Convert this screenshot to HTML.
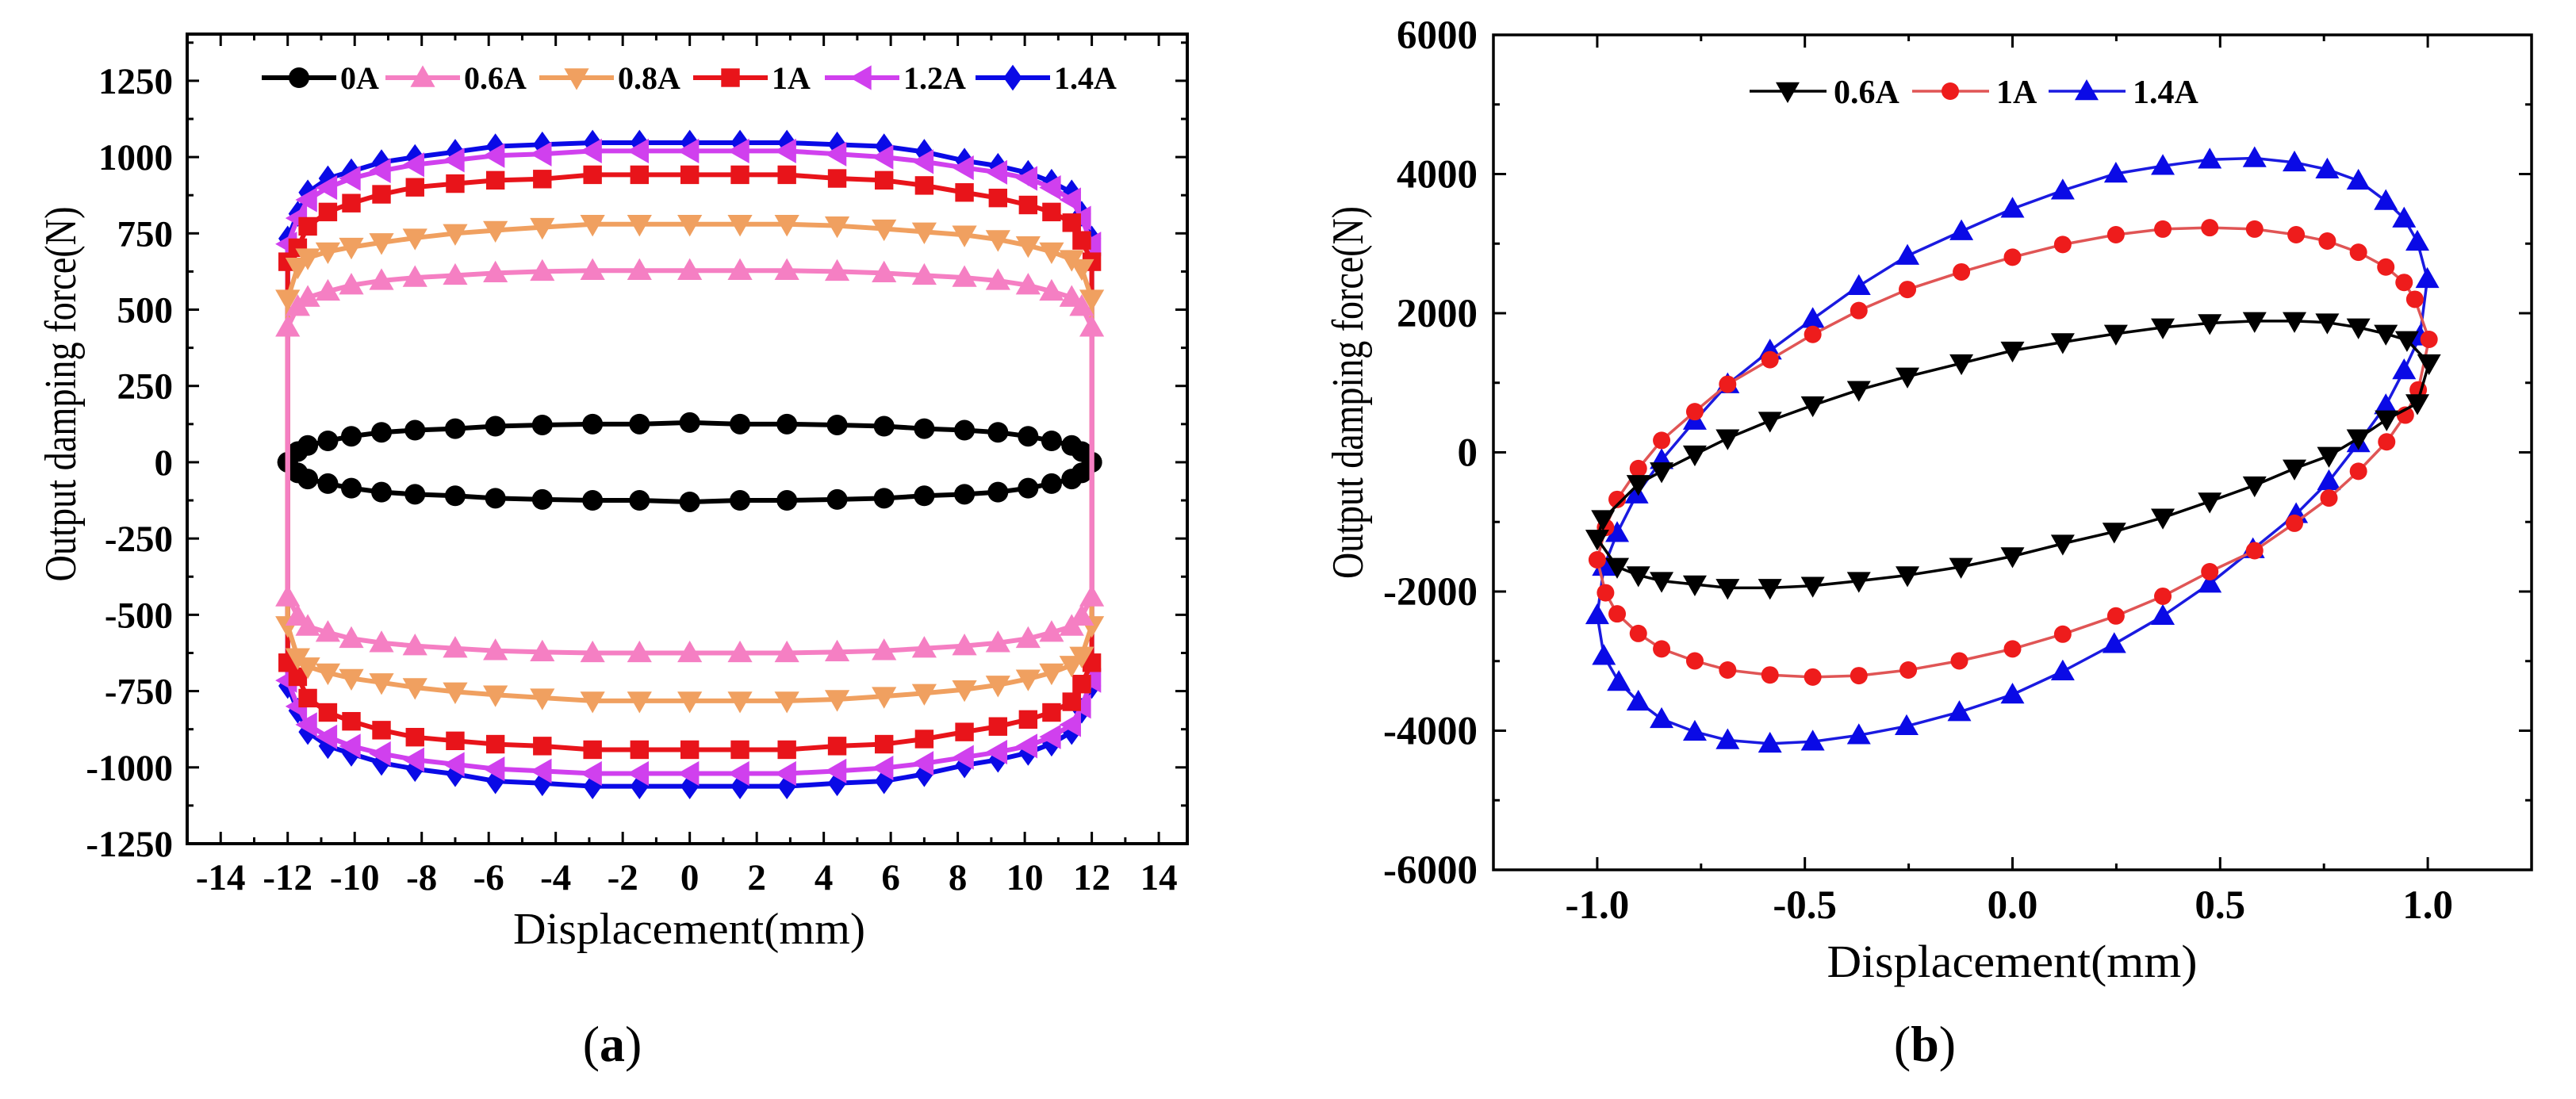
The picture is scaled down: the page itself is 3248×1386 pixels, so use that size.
<!DOCTYPE html>
<html><head><meta charset="utf-8"><style>
html,body{margin:0;padding:0;background:#fff;width:3248px;height:1386px;overflow:hidden}
svg{display:block}
text{font-family:"Liberation Serif",serif}
</style></head>
<body>
<svg id="fig" width="3248" height="1386" viewBox="0 0 3248 1386" xmlns="http://www.w3.org/2000/svg">
<g id="pa"></g>
<g id="pb"></g>
</svg>
<script>
// ---------- Chart (a) data ----------
const aX = [-12,-11.7,-11.4,-10.8,-10.1,-9.2,-8.2,-7.0,-5.8,-4.4,-2.9,-1.5,0,1.5,2.9,4.4,5.8,7.0,8.2,9.2,10.1,10.8,11.4,11.7,12];
const aSeriesNames = ["0A","1.4A","1.2A","1A","0.8A","0.6A"];
const aUp0 = [0,35,55,70,85,98,105,110,118,122,125,125,130,125,125,122,118,110,105,98,85,70,55,35,0];
const aLo0 = [0,-35,-55,-70,-85,-98,-105,-110,-118,-122,-125,-125,-130,-125,-125,-122,-118,-110,-105,-98,-85,-70,-55,-35,0];
const aUp06 = [442,510,540,560,580,595,605,612,620,625,628,628,628,628,628,625,620,612,605,595,580,560,540,510,442];
const aLo06 = [-442,-505,-538,-558,-578,-592,-602,-610,-618,-622,-625,-625,-625,-625,-625,-622,-618,-610,-602,-592,-578,-558,-538,-505,-442];
const aUp08 = [535,640,670,690,705,720,735,750,760,770,780,780,780,780,780,775,765,755,745,730,710,690,665,635,535];
const aLo08 = [-535,-640,-670,-690,-708,-722,-738,-752,-762,-772,-782,-782,-782,-782,-782,-777,-767,-757,-745,-730,-710,-690,-665,-635,-535];
const aUp1 = [657,703,773,820,849,878,901,913,924,928,942,942,942,942,942,930,924,907,884,866,843,820,785,727,657];
const aLo1 = [-657,-703,-773,-820,-849,-878,-901,-913,-924,-930,-942,-942,-942,-942,-942,-930,-924,-907,-884,-866,-843,-820,-785,-727,-657];
const aUp12 = [715,800,860,900,930,955,975,990,1005,1010,1020,1020,1020,1020,1020,1010,1000,985,965,950,930,900,860,800,715];
const aLo12 = [-715,-800,-860,-900,-930,-955,-975,-990,-1005,-1012,-1020,-1020,-1020,-1020,-1020,-1012,-1002,-987,-967,-950,-930,-900,-860,-800,-715];
const aUp14 = [733,814,884,930,953,983,1000,1017,1035,1041,1047,1047,1047,1047,1047,1041,1035,1017,988,971,948,919,884,814,733];
const aLo14 = [-733,-814,-884,-930,-955,-985,-1005,-1022,-1045,-1052,-1062,-1062,-1062,-1062,-1062,-1052,-1045,-1022,-993,-975,-952,-922,-884,-814,-733];
const aXTicks = [-14,-12,-10,-8,-6,-4,-2,0,2,4,6,8,10,12,14];
const aYTicks = [-1250,-1000,-750,-500,-250,0,250,500,750,1000,1250];

// ---------- Chart (b) data ----------
const b06X = [-1.0,-0.986,-0.901,-0.845,-0.765,-0.686,-0.584,-0.481,-0.370,-0.253,-0.123,0,0.121,0.249,0.362,0.475,0.583,0.679,0.758,0.833,0.899,0.95,1.003,0.975,0.901,0.833,0.762,0.679,0.583,0.475,0.362,0.245,0.121,0,-0.124,-0.253,-0.370,-0.481,-0.584,-0.686,-0.765,-0.845,-0.901,-0.952];
const b06Y = [-1241,-959,-454,-272,-30,202,454,676,898,1090,1281,1463,1584,1705,1796,1857,1887,1887,1867,1796,1705,1614,1281,706,474,202,-50,-232,-474,-706,-938,-1140,-1312,-1493,-1645,-1766,-1847,-1917,-1947,-1947,-1897,-1847,-1766,-1645];
const b1X = [-1.0,-0.98,-0.952,-0.901,-0.845,-0.765,-0.686,-0.584,-0.481,-0.370,-0.253,-0.123,0,0.121,0.249,0.362,0.475,0.583,0.683,0.758,0.833,0.899,0.943,0.969,1.003,0.977,0.946,0.901,0.833,0.762,0.679,0.583,0.475,0.362,0.249,0.121,0,-0.128,-0.251,-0.370,-0.481,-0.584,-0.686,-0.765,-0.845,-0.901,-0.952,-0.98];
const b1Y = [-1544,-1080,-676,-232,172,585,979,1332,1695,2038,2341,2593,2805,2987,3128,3209,3229,3209,3128,3037,2876,2664,2442,2200,1624,898,535,151,-272,-656,-1019,-1413,-1715,-2068,-2351,-2613,-2825,-2997,-3128,-3209,-3229,-3199,-3128,-2997,-2825,-2603,-2321,-2018];
const b14X = [-1.0,-0.984,-0.952,-0.905,-0.845,-0.765,-0.686,-0.584,-0.481,-0.370,-0.253,-0.123,0,0.121,0.249,0.362,0.475,0.583,0.679,0.758,0.833,0.899,0.943,0.975,0.999,0.981,0.943,0.899,0.833,0.762,0.683,0.579,0.475,0.362,0.245,0.121,0,-0.128,-0.255,-0.370,-0.481,-0.584,-0.686,-0.765,-0.845,-0.901,-0.948,-0.984];
const b14Y = [-2340,-1645,-1160,-605,-111,454,979,1463,1917,2391,2825,3178,3501,3764,4006,4117,4208,4228,4167,4066,3905,3612,3360,3027,2492,1665,1180,676,131,-414,-888,-1392,-1887,-2351,-2755,-3148,-3481,-3733,-3935,-4066,-4157,-4187,-4137,-4016,-3834,-3582,-3299,-2926];
const bXTicks = [-1.0,-0.5,0.0,0.5,1.0];
const bYTicks = [-6000,-4000,-2000,0,2000,4000,6000];

const NS = "http://www.w3.org/2000/svg";
function mk(parent, tag, attrs, txt){
  const e = document.createElementNS(NS, tag);
  for (const k in attrs) e.setAttribute(k, attrs[k]);
  if (txt !== undefined) e.textContent = txt;
  parent.appendChild(e);
  return e;
}
function marker(g, shape, cx, cy, s, color){
  let e;
  if (shape === "circle") e = mk(g,"circle",{cx:cx,cy:cy,r:s*0.5,fill:color});
  else if (shape === "square") e = mk(g,"rect",{x:cx-s*0.45,y:cy-s*0.45,width:s*0.9,height:s*0.9,fill:color});
  else {
    let p;
    const h = s*0.6;
    if (shape === "up") p = [[cx,cy-h],[cx+h,cy+h*0.75],[cx-h,cy+h*0.75]];
    else if (shape === "down") p = [[cx,cy+h],[cx+h,cy-h*0.75],[cx-h,cy-h*0.75]];
    else if (shape === "left") p = [[cx-h,cy],[cx+h*0.75,cy-h],[cx+h*0.75,cy+h]];
    else p = [[cx,cy-h*1.05],[cx+h*0.75,cy],[cx,cy+h*1.05],[cx-h*0.75,cy]];
    e = mk(g,"polygon",{points:p.map(q=>q.join(",")).join(" "),fill:color});
  }
  return e;
}

// ---------- Draw chart (a) ----------
(function(){
  const g = document.getElementById("pa");
  const L=236,R=1497,T=43,B=1064;
  const xmin=-15.0, xmax=14.85, ymin=-1250, ymax=1403;
  const sx = v => L + (v-xmin)/(xmax-xmin)*(R-L);
  const sy = v => B - (v-ymin)/(ymax-ymin)*(B-T);
  const series = {
    "0A":{up:aUp0,lo:aLo0,color:"#000000",shape:"circle"},
    "0.6A":{up:aUp06,lo:aLo06,color:"#f57fc3",shape:"up"},
    "0.8A":{up:aUp08,lo:aLo08,color:"#f0a060",shape:"down"},
    "1A":{up:aUp1,lo:aLo1,color:"#e8141a",shape:"square"},
    "1.2A":{up:aUp12,lo:aLo12,color:"#d040ee",shape:"left"},
    "1.4A":{up:aUp14,lo:aLo14,color:"#0a0ae6",shape:"diamond"}
  };
  for (let v=-14; v<=14; v+=1){
    const major = (v%2===0);
    const len = major?15:8;
    const t1 = mk(g,"line",{x1:sx(v),x2:sx(v),y1:B,y2:B-len,stroke:"#000","stroke-width":3});
    
    
    mk(g,"line",{x1:sx(v),x2:sx(v),y1:T,y2:T+len,stroke:"#000","stroke-width":3});
  }
  aXTicks.forEach(v=>{
    const t = mk(g,"text",{x:sx(v),y:1122,"text-anchor":"middle","font-size":47,"font-weight":"bold"}, String(v));
    
    
  });
  for (let v=-1250; v<=1375; v+=125){
    const major = (v%250===0);
    const len = major?15:8;
    mk(g,"line",{x1:L,x2:L+len,y1:sy(v),y2:sy(v),stroke:"#000","stroke-width":3});
    mk(g,"line",{x1:R,x2:R-len,y1:sy(v),y2:sy(v),stroke:"#000","stroke-width":3});
  }
  aYTicks.forEach(v=>{
    const t = mk(g,"text",{x:218,y:sy(v)+16,"text-anchor":"end","font-size":47,"font-weight":"bold"}, String(v));
    
    
  });
  const order = ["0A","1.4A","1.2A","1A","0.8A","0.6A"];
  order.forEach(name=>{
    const s = series[name];
    const sg = mk(g,"g",{});
    
    
    const pts = [];
    aX.forEach((x,i)=>pts.push([sx(x),sy(s.up[i])]));
    for (let i=aX.length-1;i>=0;i--) pts.push([sx(aX[i]),sy(s.lo[i])]);
    const path = mk(sg,"polygon",{points:pts.map(p=>p.join(",")).join(" "),fill:"none",stroke:s.color,"stroke-width":6,"stroke-linejoin":"round"});
    
    
    pts.forEach(p=>{
      const m = marker(sg,s.shape,p[0],p[1],26,s.color);
      
      
    });
  });
  const fr = mk(g,"rect",{x:L,y:T,width:R-L,height:B-T,fill:"none",stroke:"#000","stroke-width":4});
  
  
  const legX = [330,486,680,874,1040,1230];
  const legNames = ["0A","0.6A","0.8A","1A","1.2A","1.4A"];
  const lg = mk(g,"g",{});
  
  
  legNames.forEach((n,i)=>{
    const s = series[n];
    const e = mk(lg,"g",{});
    
    
    const x0 = legX[i];
    mk(e,"line",{x1:x0,x2:x0+94,y1:98,y2:98,stroke:s.color,"stroke-width":6});
    marker(e,s.shape,x0+47,98,26,s.color);
    mk(e,"text",{x:x0+99,y:112,"font-size":40,"font-weight":"bold"},n);
  });
  const yl = mk(g,"text",{x:0,y:0,transform:"translate(95,497) rotate(-90)","text-anchor":"middle","font-size":56,textLength:473,lengthAdjust:"spacingAndGlyphs"},"Output damping force(N)");
  
  
  const xl = mk(g,"text",{x:869,y:1190,"text-anchor":"middle","font-size":56,textLength:444,lengthAdjust:"spacingAndGlyphs"},"Displacement(mm)");
  
  
  const cap = mk(g,"text",{x:772,y:1338,"text-anchor":"middle","font-size":64},"");
  
  
  mk(cap,"tspan",{},"(");
  mk(cap,"tspan",{"font-weight":"bold"},"a");
  mk(cap,"tspan",{},")");
})();

// ---------- Draw chart (b) ----------
(function(){
  const g = document.getElementById("pb");
  const L=1883,R=3192,T=44,B=1097;
  const xmin=-1.25, xmax=1.25, ymin=-6000, ymax=6000;
  const sx = v => L + (v-xmin)/(xmax-xmin)*(R-L);
  const sy = v => B - (v-ymin)/(ymax-ymin)*(B-T);
  for (let v=-1.25; v<=1.2501; v+=0.25){
    const major = Math.abs(Math.round(v*2)-v*2)<1e-6;
    const len = major?16:8;
    mk(g,"line",{x1:sx(v),x2:sx(v),y1:B,y2:B-len,stroke:"#000","stroke-width":3});
    mk(g,"line",{x1:sx(v),x2:sx(v),y1:T,y2:T+len,stroke:"#000","stroke-width":3});
  }
  bXTicks.forEach(v=>{
    const t = mk(g,"text",{x:sx(v),y:1158,"text-anchor":"middle","font-size":51,"font-weight":"bold"}, v.toFixed(1));
    
    
  });
  for (let v=-6000; v<=6000; v+=1000){
    const major = (v%2000===0);
    const len = major?16:8;
    mk(g,"line",{x1:L,x2:L+len,y1:sy(v),y2:sy(v),stroke:"#000","stroke-width":3});
    mk(g,"line",{x1:R,x2:R-len,y1:sy(v),y2:sy(v),stroke:"#000","stroke-width":3});
  }
  bYTicks.forEach(v=>{
    const t = mk(g,"text",{x:1863,y:sy(v)+17,"text-anchor":"end","font-size":51,"font-weight":"bold"}, String(v));
    
    
  });
  const series = [
    {name:"1.4A",xs:b14X,ys:b14Y,color:"#0a0ae6",line:"#1a1ae0",shape:"up"},
    {name:"1A",xs:b1X,ys:b1Y,color:"#ee1c1c",line:"#e05555",shape:"circle"},
    {name:"0.6A",xs:b06X,ys:b06Y,color:"#000000",line:"#000000",shape:"down"}
  ];
  series.forEach(s=>{
    const sg = mk(g,"g",{});
    
    
    const pts = s.xs.map((x,i)=>[sx(x),sy(s.ys[i])]);
    const ln = mk(sg,"polygon",{points:pts.map(p=>p.join(",")).join(" "),fill:"none",stroke:s.line,"stroke-width":3.5,"stroke-linejoin":"round"});
    
    
    pts.forEach(p=>{
      const m = marker(sg,s.shape,p[0],p[1],s.shape==="circle"?22:25,s.color);
      
      
    });
  });
  const fr = mk(g,"rect",{x:L,y:T,width:R-L,height:B-T,fill:"none",stroke:"#000","stroke-width":3.5});
  
  
  const legX = [2206,2411,2583];
  const legN = ["0.6A","1A","1.4A"];
  const legS = [series[2],series[1],series[0]];
  const lg = mk(g,"g",{});
  
  
  legN.forEach((n,i)=>{
    const s = legS[i];
    const e = mk(lg,"g",{});
    
    
    const x0 = legX[i];
    mk(e,"line",{x1:x0,x2:x0+97,y1:115,y2:115,stroke:s.line,"stroke-width":3.5});
    marker(e,s.shape,x0+48,115,s.shape==="circle"?22:25,s.color);
    mk(e,"text",{x:x0+106,y:130,"font-size":42,"font-weight":"bold"},n);
  });
  const yl = mk(g,"text",{x:0,y:0,transform:"translate(1718,495) rotate(-90)","text-anchor":"middle","font-size":56,textLength:470,lengthAdjust:"spacingAndGlyphs"},"Output damping force(N)");
  
  
  const xl = mk(g,"text",{x:2537,y:1232,"text-anchor":"middle","font-size":58,textLength:467,lengthAdjust:"spacingAndGlyphs"},"Displacement(mm)");
  
  
  const cap = mk(g,"text",{x:2427,y:1338,"text-anchor":"middle","font-size":64},"");
  
  
  mk(cap,"tspan",{},"(");
  mk(cap,"tspan",{"font-weight":"bold"},"b");
  mk(cap,"tspan",{},")");
})();
</script>
</body></html>
